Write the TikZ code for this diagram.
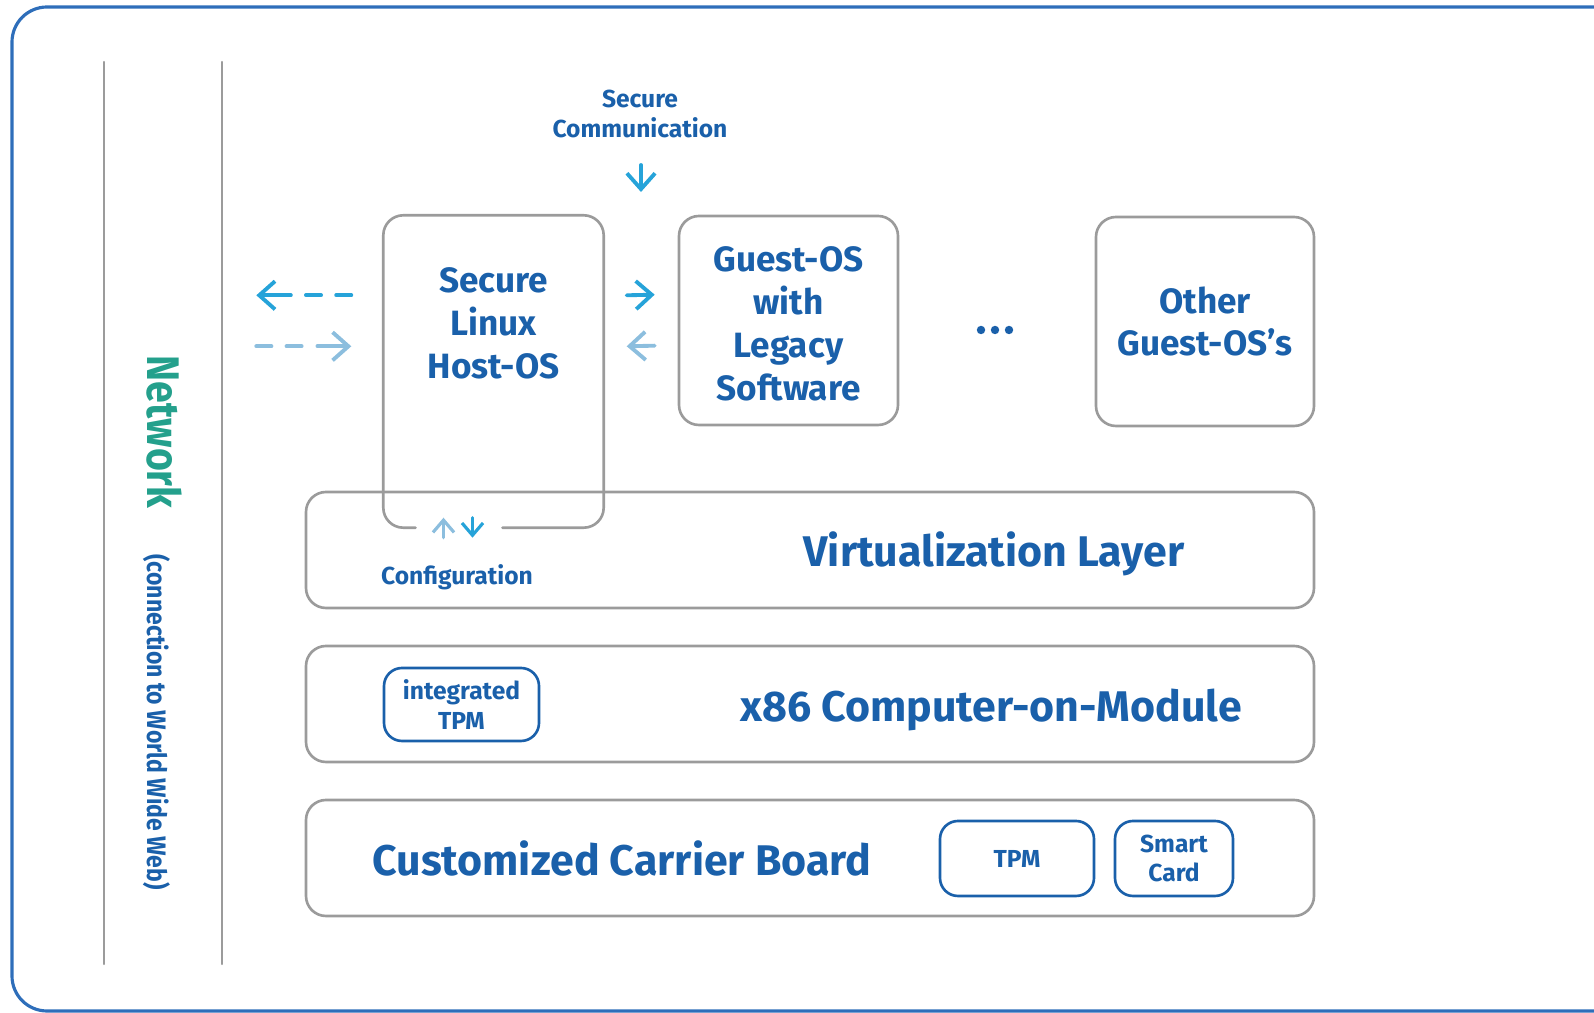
\documentclass[tikz,border=0pt]{standalone}
\usepackage{fontspec}
\setmainfont{Fira Sans}
\newfontfamily\narrowfont{Fira Sans}[FakeStretch=0.86]
\usetikzlibrary{arrows.meta,calc}

\definecolor{textblue}{RGB}{26,96,170}
\definecolor{netgreen}{RGB}{36,160,140}
\definecolor{arrowcyan}{RGB}{38,163,217}
\definecolor{arrowpale}{RGB}{140,190,222}
\definecolor{boxgrey}{RGB}{155,155,155}
\definecolor{frameblue}{RGB}{46,110,186}

\newcommand{\bsize}[2]{\fontsize{#1}{#2}\selectfont\bfseries}

\tikzset{
  greybox/.style={draw=boxgrey, line width=0.75pt, rounded corners=2mm, inner sep=0pt},
  bluebox/.style={draw=textblue, line width=0.75pt, rounded corners=1.8mm, inner sep=0pt,
    align=center, text=textblue, font=\bsize{7}{8.3}},
  bigtext/.style={text=textblue, align=center, font=\bsize{10}{12.2}},
  layertext/.style={text=textblue, font=\bsize{12.2}{14}},
  smalltext/.style={text=textblue, align=center, font=\bsize{7}{8.3}},
  flow/.style={line width=1.1pt, -{Straight Barb[length=4.5pt,width=8pt]}},
  tinyflow/.style={line width=0.9pt, -{Straight Barb[length=3.5pt,width=6pt]}},
}

\begin{document}
\begin{tikzpicture}[x=0.1mm, y=-0.1mm, line join=round, line cap=round]
  \useasboundingbox (0,0) rectangle (1594,1013);
  \clip (0,0) rectangle (1594,1013);
  \draw[frameblue, line width=0.9pt, rounded corners=3.5mm] (12,7) rectangle (1640,1011);
  \foreach \x in {104,222}
    \draw[boxgrey, line width=0.6pt] (\x,62) -- (\x,964);

  \node[rotate=-90, anchor=base west, inner sep=0pt] (network) at (147,355)
    {{\narrowfont\bsize{13}{15}\color{netgreen}Network}\hspace*{4.6mm}{\narrowfont\bsize{7.6}{9}\color{textblue}(connection to World Wide Web)}};

  % host box, open at the bottom for the configuration arrows
  \node[minimum width=21.9mm, minimum height=31.1mm, inner sep=0pt] (host) at (493.5,371.5) {};
  \draw[boxgrey, line width=0.75pt, rounded corners=2mm]
    ($(host.south)+(-78,0)$) -- (host.south west) -- (host.north west)
    -- (host.north east) -- (host.south east) -- ($(host.south)+(9,0)$);
  \node[bigtext] (hostlabel) at (493.5,323) {Secure\\Linux\\Host-OS};

  \node[greybox, minimum width=21.9mm, minimum height=20.9mm] (guest) at (788.5,320.5) {};
  \node[bigtext] (guestlabel) at (788.5,324) {Guest-OS\\with\\Legacy\\Software};
  \node[greybox, bigtext, minimum width=21.8mm, minimum height=20.9mm] (other) at (1205,321.5)
    {Other\\Guest-OS's};
  \foreach \x in {981,995,1009}
    \fill[textblue] (\x,330) circle (1.2pt);

  \node[greybox, minimum width=100.8mm, minimum height=11.6mm] (virt) at (810,550) {};
  \node[greybox, minimum width=100.8mm, minimum height=11.6mm] (cpu) at (810,704) {};
  \node[greybox, minimum width=100.8mm, minimum height=11.6mm] (carrier) at (810,858) {};
  \node[layertext, anchor=base] (virtlabel) at (994,567) {Virtualization Layer};
  \node[layertext, anchor=base] (cpulabel) at (991,722) {x86 Computer-on-Module};
  \node[layertext, anchor=base] (carrierlabel) at (622,876) {Customized Carrier Board};

  \node[bluebox, minimum width=15.5mm, minimum height=7.3mm] (itpm) at (461.5,704.5) {integrated\\TPM};
  \node[bluebox, minimum width=15.4mm, minimum height=7.5mm] (tpm) at (1017,858.5) {TPM};
  \node[bluebox, minimum width=11.8mm, minimum height=7.5mm] (card) at (1174,858.5) {Smart\\Card};

  \node[smalltext] (comm) at (640,114) {Secure\\Communication};
  \node[smalltext, anchor=base] (config) at (457,585) {Configuration};

  \coordinate (commtop) at (641,165);
  \coordinate (commtip) at (641,192);
  \draw[flow, arrowcyan] (commtop) -- (commtip);

  \draw[flow, arrowcyan] ($(host.north east)+(23,80)$) -- ($(guest.north west)+(-23,80)$);
  \draw[flow, arrowpale] ($(guest.north west)+(-23,131)$) -- ($(host.north east)+(23,131)$);

  \draw[flow, arrowcyan, dash pattern=on 4.3pt off 4.3pt on 4.3pt off 4.3pt on 30pt]
    ($(host.north west)+(-32,80)$) -- ($(host.north west)+(-127,80)$);
  \draw[flow, arrowpale, dash pattern=on 4.3pt off 4.3pt on 4.3pt off 4.5pt on 30pt]
    ($(host.north west)+(-127,131)$) -- ($(host.north west)+(-32,131)$);

  \draw[tinyflow, arrowpale] ($(host.south)+(-50,10)$) -- ($(host.south)+(-50,-10)$);
  \draw[tinyflow, arrowcyan] ($(host.south)+(-21,-10)$) -- ($(host.south)+(-21,10)$);
\end{tikzpicture}
\end{document}
